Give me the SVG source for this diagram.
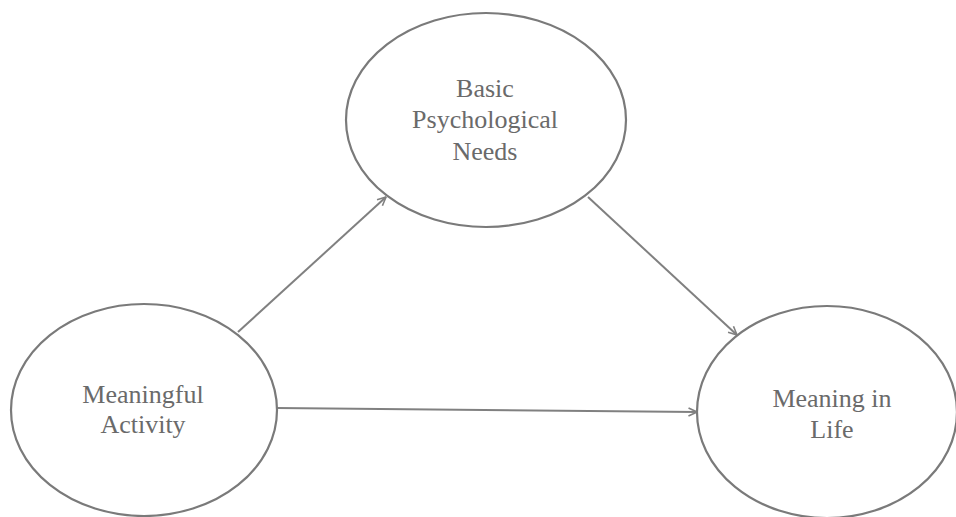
<svg xmlns="http://www.w3.org/2000/svg" width="956" height="517" viewBox="0 0 956 517">
<defs>
<style>
.node ellipse{fill:#fff;stroke:#7a7a7a;stroke-width:2.2}
.node text{font-family:"Liberation Serif","Times New Roman",serif;font-size:26px;fill:#6a6a6a;text-anchor:middle}
.conn line{stroke:#808080;stroke-width:2;marker-end:url(#ah)}
</style>
<marker id="ah" viewBox="0 0 10 10" refX="9.5" refY="5" markerWidth="5" markerHeight="5" orient="auto" markerUnits="strokeWidth">
<path d="M1,1 L9.5,5 L1,9" fill="none" stroke="#808080" stroke-width="1.6"/>
</marker>
</defs>
<rect width="956" height="517" fill="#fff"/>
<g class="conn" id="connectors">
<line x1="238" y1="332" x2="386" y2="197"/>
<line x1="588" y1="197" x2="737" y2="335"/>
<line x1="277" y1="408" x2="697" y2="412"/>
</g>
<g class="node" id="basic-needs">
<ellipse cx="486" cy="120" rx="140" ry="107"/>
<text x="485" y="97">Basic</text>
<text x="485" y="128">Psychological</text>
<text x="485" y="160">Needs</text>
</g>
<g class="node" id="meaningful-activity">
<ellipse cx="144" cy="410" rx="133" ry="106"/>
<text x="143" y="403">Meaningful</text>
<text x="143" y="433">Activity</text>
</g>
<g class="node" id="meaning-in-life">
<ellipse cx="827" cy="412" rx="130" ry="106"/>
<text x="832" y="407">Meaning in</text>
<text x="832" y="438">Life</text>
</g>
</svg>
